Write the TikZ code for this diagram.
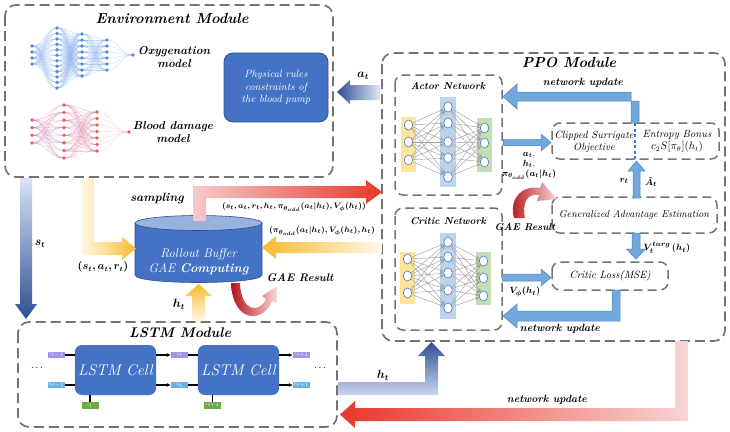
\documentclass[tikz,border=0pt]{standalone}
\usepackage{bm}
\usetikzlibrary{arrows.meta,shapes.geometric}
\definecolor{cellblue}{HTML}{4472C4}
\definecolor{celledge}{HTML}{2F528F}
\definecolor{dashgray}{HTML}{737373}
\definecolor{arrblue}{HTML}{72A8DC}
\definecolor{arredge}{HTML}{4A86C8}
\definecolor{ylight}{HTML}{FFF6DA}
\definecolor{ydark}{HTML}{F7BA2C}
\definecolor{rpink}{HTML}{F6CACA}
\definecolor{rred}{HTML}{E8372A}
\definecolor{rdark}{HTML}{B5121B}
\definecolor{blight}{HTML}{C9D6EE}
\definecolor{bdark}{HTML}{2E4F94}
\definecolor{layy}{HTML}{FFE59A}
\definecolor{layb}{HTML}{BCD3EE}
\definecolor{layg}{HTML}{C3DEB0}
\definecolor{oxdot}{HTML}{4F8BE3}
\definecolor{bddot}{HTML}{EE5A5A}
\definecolor{tagc}{HTML}{A493E6}
\definecolor{tagh}{HTML}{67B2EA}
\definecolor{tags}{HTML}{6AAA45}

\newcommand{\fsz}[2]{\fontsize{#1}{#2}\selectfont}
% a column of small dots: x, count, first y, last y, fill
\newcommand{\dotlayer}[5]{%
  \foreach \i in {1,...,#2}{%
    \pgfmathsetmacro{\yy}{#3+(\i-1)*(#4-#3)/max(#2-1,1)}
    \fill[#5] (#1,\yy) circle[radius=1.9];}}
% soft s-shaped links between two dot columns
\newcommand{\dotlinks}[9]{%
  \foreach \i in {1,...,#2}{\foreach \j in {1,...,#6}{%
    \pgfmathsetmacro{\ya}{#3+(\i-1)*(#4-#3)/max(#2-1,1)}
    \pgfmathsetmacro{\yb}{#7+(\j-1)*(#8-#7)/max(#6-1,1)}
    \pgfmathsetmacro{\xm}{(#1+#5)/2}
    \draw[#9] (#1,\ya) .. controls (\xm,\ya) and (\xm,\yb) .. (#5,\yb);}}}

\begin{document}
\begin{tikzpicture}[x=1pt,y=-1pt,
  dbox/.style={draw=dashgray,line width=1.7pt,dash pattern=on 10pt off 5pt,rounded corners=11pt},
  ibox/.style={draw=dashgray,line width=1.5pt,dash pattern=on 9pt off 5pt,rounded corners=8pt},
  bl/.style={inner sep=0pt,font=\bfseries\itshape,align=center},
  it/.style={inner sep=0pt,font=\itshape,align=center},
  nn/.style={ellipse,draw=cellblue,fill=white,line width=0.6pt,minimum width=8.5pt,minimum height=10pt,inner sep=0pt},
  lnk/.style={draw=gray!75,line width=0.45pt,-{Stealth[length=3.5pt,width=3pt]}},
  parr/.style={fill=arrblue,draw=arredge,line width=0.5pt},
  tag/.style={minimum width=17pt,minimum height=6.5pt,inner sep=0pt,text=white,font=\fsz{4}{4}},
  cell/.style={fill=cellblue,rounded corners=7pt,minimum width=77pt,minimum height=50pt,text=white,font=\fsz{15.5}{17}\itshape},
  wire/.style={line width=1.1pt},
  warr/.style={line width=1.1pt,-{Latex[length=4pt,width=4pt]}},
]
\useasboundingbox (0,0) rectangle (730,431);

%% ---------------- Environment module ----------------
\draw[dbox] (5,5) rectangle (333,177);
\node[bl,font=\fsz{14.5}{16}\bfseries\itshape] (envtitle) at (172,19) {Environment Module};

% oxygenation network
\dotlinks{32}{4}{46}{64}{57}{12}{28}{88}{oxdot!70,opacity=0.45,line width=0.35pt}
\dotlinks{57}{12}{28}{88}{82}{8}{34}{76}{oxdot!70,opacity=0.45,line width=0.35pt}
\dotlinks{82}{8}{34}{76}{107}{6}{40}{70}{oxdot!70,opacity=0.45,line width=0.35pt}
\dotlinks{107}{6}{40}{70}{133}{1}{55}{55}{oxdot!70,opacity=0.45,line width=0.35pt}
\dotlayer{32}{4}{46}{64}{oxdot}
\dotlayer{57}{12}{28}{88}{oxdot}
\dotlayer{82}{8}{34}{76}{oxdot}
\dotlayer{107}{6}{40}{70}{oxdot}
\dotlayer{133}{1}{55}{55}{oxdot}
\node[bl,font=\fsz{11.5}{13}\bfseries\itshape] (oxy) at (174,57) {Oxygenation\\model};

% blood damage network
\dotlinks{32}{4}{120}{143}{64}{8}{105}{158}{bddot!80,opacity=0.32,line width=0.35pt}
\dotlinks{64}{8}{105}{158}{97}{7}{112}{151}{bddot!80,opacity=0.32,line width=0.35pt}
\dotlinks{97}{7}{112}{151}{129}{1}{132}{132}{bddot!80,opacity=0.32,line width=0.35pt}
\dotlinks{32}{4}{120}{143}{64}{4}{112}{158}{blue!60,opacity=0.25,line width=0.35pt}
\dotlinks{64}{4}{105}{151}{97}{4}{112}{151}{blue!60,opacity=0.25,line width=0.35pt}
\dotlayer{32}{4}{120}{143}{bddot}
\dotlayer{64}{8}{105}{158}{bddot}
\dotlayer{97}{7}{112}{151}{bddot}
\dotlayer{129}{1}{132}{132}{bddot}
\node[bl,font=\fsz{11.5}{13}\bfseries\itshape] (bdm) at (173,132) {Blood damage\\model};

\node[fill=cellblue,draw=celledge,line width=0.8pt,rounded corners=9pt,minimum width=104pt,minimum height=69pt,
      text=white,font=\fsz{10.5}{12.5}\itshape,align=center] (phys) at (276,87.5)
      {Physical rules\\constraints of\\the blood pump};

% a_t into the environment
\shade[left color=bdark,right color=blight!60] (337,92) -- (350,80) -- (350,85) -- (380,85) -- (380,100) -- (350,100) -- (350,104) -- cycle;
\node[inner sep=0pt,font=\fsz{12}{12}] (atlab) at (363,76) {$\bm{a_t}$};

%% ---------------- PPO module ----------------
\draw[dbox] (382,53) rectangle (725,341);
\node[bl,font=\fsz{14.5}{16}\bfseries\itshape] (ppotitle) at (569,63) {PPO Module};

% actor network
\draw[ibox] (395,75) rectangle (502,195);
\node[bl,font=\fsz{10}{11}\bfseries\itshape] (actortitle) at (448,86) {Actor Network};
\fill[layy] (401,117) rectangle (416,172);
\fill[layb] (440,97) rectangle (456,187);
\fill[layg] (477,118) rectangle (492,172);
\foreach \y [count=\k] in {125,142,160} \node[nn] (ai\k) at (408.5,\y) {};
\foreach \y [count=\k] in {107,123,142,158,177} \node[nn] (ah\k) at (448,\y) {};
\foreach \y [count=\k] in {128,143,162} \node[nn] (ao\k) at (484.5,\y) {};
\foreach \i in {1,2,3} \foreach \j in {1,...,5} \draw[lnk] (ai\i) -- (ah\j);
\foreach \i in {1,...,5} \foreach \j in {1,2,3} \draw[lnk] (ah\i) -- (ao\j);

% critic network
\draw[ibox] (395,208) rectangle (502,330);
\node[bl,font=\fsz{10}{11}\bfseries\itshape] (critictitle) at (448,221) {Critic Network};
\fill[layy] (400,252) rectangle (415,304);
\fill[layb] (440,233) rectangle (456,319);
\fill[layg] (476,252) rectangle (491,305);
\foreach \y [count=\k] in {259,276,293} \node[nn] (ci\k) at (407.5,\y) {};
\foreach \y [count=\k] in {242,257,273,290,308} \node[nn] (ch\k) at (448,\y) {};
\foreach \y [count=\k] in {261,278,296} \node[nn] (co\k) at (483.5,\y) {};
\foreach \i in {1,2,3} \foreach \j in {1,...,5} \draw[lnk] (ci\i) -- (ch\j);
\foreach \i in {1,...,5} \foreach \j in {1,2,3} \draw[lnk] (ch\i) -- (co\j);

% objective boxes
\draw[ibox] (552,123) rectangle (719,159);
\node[it,font=\fsz{10.5}{12}\itshape] (clip) at (594,141.5) {Clipped Surrigate\\Objective};
\node[it,font=\fsz{10.5}{12}\itshape] (ent) at (677,141.5) {Entropy Bonus\\$c_2S[\pi_\theta](h_t)$};
\draw[ibox] (552,197) rectangle (717,233);
\node[it,font=\fsz{10}{11}\itshape] (gae) at (634,215) {Generalized Advantage Estimation};
\draw[ibox] (552,262) rectangle (668,290);
\node[it,font=\fsz{10.5}{12}\itshape] (closs) at (610,276) {Critic Loss(MSE)};

% update arrow to the actor
\filldraw[parr] (639,123) -- (639,101) -- (517,101) -- (517,109) -- (503,96.5) -- (517,84) -- (517,92) -- (631,92) -- (631,123) -- cycle;
\draw[cellblue,line width=1.2pt,dash pattern=on 3pt off 2.5pt] (635,123) -- (635,159);
\node[bl,font=\fsz{10.5}{12}\bfseries\itshape] (nu1) at (583,83) {network update};

% actor outputs
\filldraw[parr] (503,139.5) -- (541,139.5) -- (541,134) -- (551,142.5) -- (541,151) -- (541,145.5) -- (503,145.5) -- cycle;
\node[inner sep=0pt,font=\fsz{9}{11},align=center] (actout) at (529,166)
  {$\bm{a_t},$\\[-1pt]$\bm{h_t},$\\[-1pt]$\bm{\pi_{\theta_{odd}}(a_t|h_t)}$};

% advantage into the objective
\filldraw[parr] (633,198) -- (633,171) -- (628,171) -- (636.5,161) -- (645,171) -- (640,171) -- (640,198) -- cycle;
\node[inner sep=0pt,font=\fsz{9.5}{10}] (rtlab) at (624,181) {$\bm{r_t}$};
\node[inner sep=0pt,font=\fsz{9.5}{10}] (atadv) at (651,182) {$\bm{\hat{A}_t}$};

% GAE result loop
\shade[left color=rdark,right color=rpink!80] (514,218) .. controls (509,198) and (522,185) .. (540,188)
  -- (542,182) -- (557,199) -- (537,201) -- (539,195) .. controls (527,193) and (522,203) .. (525,218) -- cycle;
\node[bl,font=\fsz{10}{11}\bfseries\itshape] (gaeres1) at (525,227) {GAE Result};

% targets into the critic loss
\filldraw[parr] (632,233) -- (640,233) -- (640,249) -- (645.5,249) -- (636,259) -- (626.5,249) -- (632,249) -- cycle;
\node[inner sep=0pt,font=\fsz{9.5}{10}] (vtarg) at (667,248) {$\bm{V_t}^{\bm{targ}}\,\bm{(h_t)}$};

% critic output into the loss
\filldraw[parr] (502,274) -- (541,274) -- (541,269) -- (551,277.5) -- (541,286) -- (541,281) -- (502,281) -- cycle;
\node[inner sep=0pt,font=\fsz{9.5}{10}] (vphi) at (525,292) {$\bm{V_\phi(h_t)}$};

% update arrow to the critic
\filldraw[parr] (612,290) -- (620,290) -- (620,321) -- (517,321) -- (517,328) -- (503,316) -- (517,304) -- (517,311) -- (612,311) -- cycle;
\node[bl,font=\fsz{10.5}{12}\bfseries\itshape] (nu2) at (560,329) {network update};

%% ---------------- Rollout buffer ----------------
\fill[cellblue] (135,223) -- (135,275) .. controls (135,285) and (262,285) .. (262,275) -- (262,223) -- cycle;
\draw[celledge,line width=0.6pt] (135,223) -- (135,275) .. controls (135,285) and (262,285) .. (262,275) -- (262,223);
\filldraw[fill=cellblue!55!white,draw=celledge,line width=0.6pt] (198.5,223) ellipse [x radius=63.5, y radius=7.5];
\node[inner sep=0pt,text=white,font=\fsz{12.5}{15}\itshape,align=center] (buf) at (198.5,262)
  {Rollout Buffer\\GAE \textbf{Computing}};

% environment outputs into the buffer
\shade[left color=ylight!60,right color=ydark] (81,178) -- (94,178) -- (94,242) -- (122,242) -- (122,237) -- (136,248.5) -- (122,260) -- (122,255) -- (81,255) -- cycle;
\node[inner sep=0pt,font=\fsz{10.5}{11}] (sar) at (103,267) {$\bm{(s_t,a_t,r_t)}$};

% sampling towards the PPO module
\shade[left color=rpink,right color=rred] (193,221) -- (193,186) -- (366,186) -- (366,180) -- (382,192) -- (366,204) -- (366,198) -- (206,198) -- (206,221) -- cycle;
\node[bl,font=\fsz{12}{13}\bfseries\itshape] (samp) at (157,199) {sampling};
\node[inner sep=0pt,font=\fsz{8.2}{9}] (tuple) at (294,207)
  {$\bm{(s_t,a_t,r_t,h_t,\pi_{\theta_{odd}}(a_t|h_t),V_\phi(h_t))}$};

% values back into the buffer
\shade[left color=ydark,right color=ylight!60] (262,247.5) -- (276,236) -- (276,242) -- (382,242) -- (382,253) -- (276,253) -- (276,259) -- cycle;
\node[inner sep=0pt,font=\fsz{8.2}{9}] (back) at (322,231)
  {$\bm{(\pi_{\theta_{odd}}(a_t|h_t),V_\phi(h_t),h_t)}$};

% hidden state into the buffer
\shade[top color=ydark,bottom color=ylight!60] (192,321) -- (192,296) -- (185,296) -- (198.5,284) -- (212,296) -- (205,296) -- (205,321) -- cycle;
\node[inner sep=0pt,font=\fsz{11.5}{12}] (htbuf) at (179,304) {$\bm{h_t}$};

% GAE result under the buffer
\shade[left color=rdark,right color=rpink!70] (231,283) .. controls (233,325) and (265,322) .. (272,301)
  -- (277,303) -- (277,286) -- (262,296) -- (266,299) .. controls (260,313) and (241,313) .. (240,283) -- cycle;
\node[bl,font=\fsz{11}{12}\bfseries\itshape] (gaeres2) at (300,278) {GAE Result};

% state into the LSTM
\shade[top color=blight!70,bottom color=bdark] (20,178) -- (32,178) -- (32,304) -- (37,304) -- (26,319) -- (15,304) -- (20,304) -- cycle;
\node[inner sep=0pt,font=\fsz{11.5}{12}] (stlab) at (40,244) {$\bm{s_t}$};

%% ---------------- LSTM module ----------------
\draw[dbox] (18,322) rectangle (337,427);
\node[bl,font=\fsz{14}{15}\bfseries\itshape] (lstmtitle) at (180,333) {LSTM Module};
\node[cell] (cellA) at (115.5,370) {LSTM Cell};
\node[cell] (cellB) at (238.5,370) {LSTM Cell};
\node[tag,fill=tagc] (cprev) at (56.5,355) {c$_{t-1}$};
\node[tag,fill=tagh] (hprev) at (56.5,385) {h$_{t-1}$};
\node[tag,fill=tagc] (cnow) at (179.5,355) {c$_t$};
\node[tag,fill=tagh] (hnow) at (179.5,385) {h$_t$};
\node[tag,fill=tagc] (cnext) at (301.5,355) {c$_{t+1}$};
\node[tag,fill=tagh] (hnext) at (301.5,385) {h$_{t+1}$};
\node[tag,fill=tags] (snow) at (90,405.5) {s$_t$};
\node[tag,fill=tags] (snext) at (212.5,405.5) {s$_{t+1}$};
\draw[wire] (cprev.east) -- (cprev.east -| cellA.west);
\draw[wire] (hprev.east) -- (hprev.east -| cellA.west);
\draw[warr] (cnow.west -| cellA.east) -- (cnow.west);
\draw[warr] (hnow.west -| cellA.east) -- (hnow.west);
\draw[wire] (cnow.east) -- (cnow.east -| cellB.west);
\draw[wire] (hnow.east) -- (hnow.east -| cellB.west);
\draw[warr] (cnext.west -| cellB.east) -- (cnext.west);
\draw[warr] (hnext.west -| cellB.east) -- (hnext.west);
\draw[wire] (snow.north) -- (snow.north |- cellA.south);
\draw[wire] (snext.north) -- (snext.north |- cellB.south);
\node[inner sep=0pt] (dotsL) at (37,368) {$\cdots$};
\node[inner sep=0pt] (dotsR) at (320,368) {$\cdots$};

% hidden state into the PPO module
\shade[top color=bdark,bottom color=blight] (338,382) -- (425,382) -- (425,356) -- (418,356) -- (431.5,342) -- (445,356) -- (438,356) -- (438,395) -- (338,395) -- cycle;
\node[inner sep=0pt,font=\fsz{11.5}{12}] (htppo) at (383,375) {$\bm{h_t}$};

% network update back to the LSTM
\shade[left color=rred,right color=rpink!80] (688,341) -- (688,421) -- (355,421) -- (355,428) -- (340,414.5) -- (355,401) -- (355,408) -- (675,408) -- (675,341) -- cycle;
\node[bl,font=\fsz{10.5}{12}\bfseries\itshape] (nu3) at (547,400) {network update};
\end{tikzpicture}
\end{document}
